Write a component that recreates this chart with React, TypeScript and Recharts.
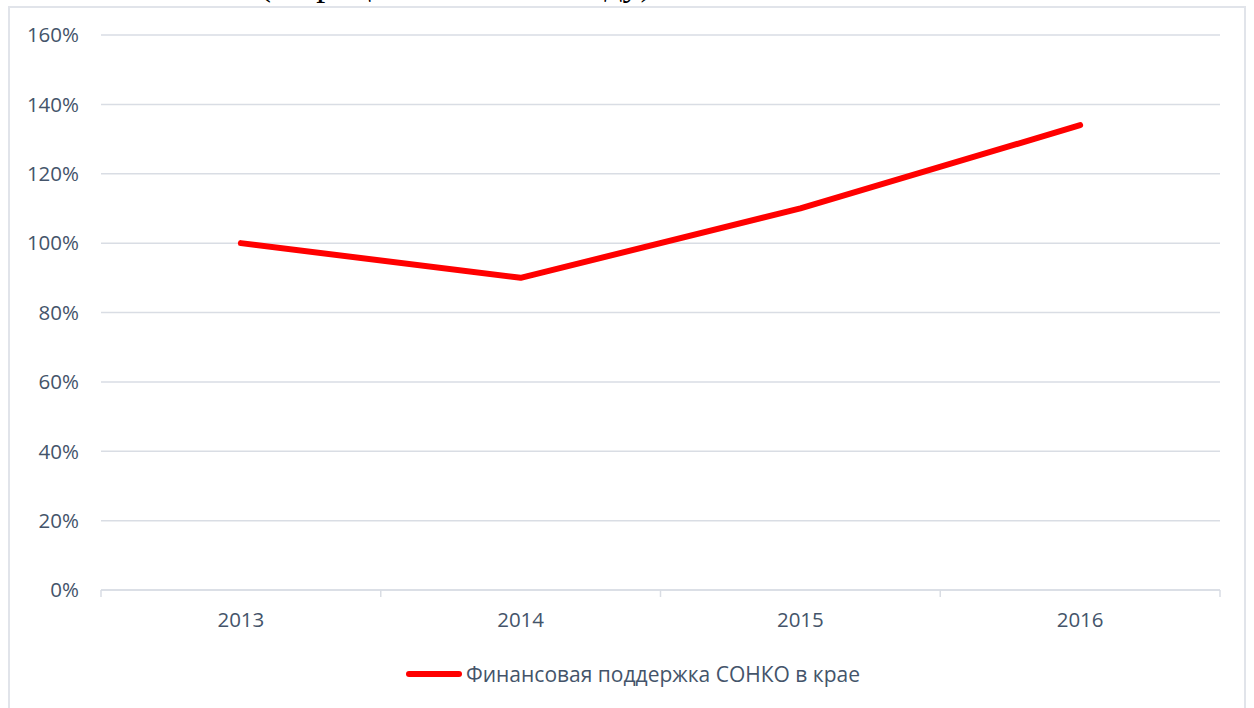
import React from 'react';
import { LineChart, Line, XAxis, YAxis, CartesianGrid } from 'recharts';

const years = ['2013', '2014', '2015', '2016'];
const supportValues = [100, 90, 110, 134];
const yTicks = [0, 20, 40, 60, 80, 100, 120, 140, 160];
const seriesName = 'Финансовая поддержка СОНКО в крае';
const captionText = '(в процентах к 2013 году)';

const data = years.map((y, i) => ({ year: y, value: supportValues[i] }));

const TEXT = '#44546A';
const GRID = '#D9DDE4';
const FONT = '"Open Sans", sans-serif';

const renderXTick = (props: any) => {
  const { x, y, payload, index, visibleTicksCount, width } = props;
  const bw = width / visibleTicksCount;
  const left = x - bw / 2;
  const right = x + bw / 2;
  return (
    <g>
      <line x1={left} y1={y} x2={left} y2={y + 7} stroke={GRID} strokeWidth={1.5} />
      {index === visibleTicksCount - 1 && (
        <line x1={right} y1={y} x2={right} y2={y + 7} stroke={GRID} strokeWidth={1.5} />
      )}
      <text x={x} y={y + 37} textAnchor="middle" fill={TEXT} fontSize={20.5} fontFamily={FONT}>
        {payload.value}
      </text>
    </g>
  );
};

export default function App() {
  return (
    <div style={{ position: 'absolute', left: 0, top: 0, width: 1254, height: 708, overflow: 'hidden', background: '#fff' }}>
      <svg width={1254} height={20} style={{ position: 'absolute', left: 0, top: 0 }}>
        <text x={259} y={-5} fontSize={36} fontFamily='"Liberation Serif", "Times New Roman", serif' fill="#000">
          {captionText}
        </text>
      </svg>
      <div
        style={{
          position: 'absolute',
          left: 8,
          top: 6,
          width: 1238,
          height: 720,
          border: '2px solid #E1E4EA',
          boxSizing: 'border-box',
        }}
      />
      <div style={{ position: 'absolute', left: 8, top: 6 }}>
        <LineChart width={1240} height={702} data={data} margin={{ top: 29, right: 28, bottom: 78, left: 0 }}>
          <CartesianGrid vertical={false} stroke={GRID} strokeWidth={1.5} />
          <XAxis
            dataKey="year"
            scale="band"
            height={40}
            axisLine={{ stroke: GRID, strokeWidth: 1.5 }}
            tickLine={false}
            tickSize={0}
            tickMargin={0}
            tick={renderXTick}
            interval={0}
          />
          <YAxis
            width={93}
            domain={[0, 160]}
            ticks={yTicks}
            axisLine={false}
            tickLine={false}
            tickSize={0}
            tickMargin={22}
            tickFormatter={(v: number) => `${v}%`}
            tick={{ fill: TEXT, fontSize: 20.5, fontFamily: FONT }}
          />
          <Line
            type="linear"
            dataKey="value"
            name={seriesName}
            stroke="#FF0000"
            strokeWidth={6}
            strokeLinecap="round"
            strokeLinejoin="round"
            dot={false}
            activeDot={false}
            isAnimationActive={false}
          />
        </LineChart>
      </div>
      <div
        style={{
          position: 'absolute',
          left: 406,
          top: 660,
          height: 28,
          display: 'flex',
          alignItems: 'center',
          fontFamily: FONT,
          fontSize: 21,
          color: TEXT,
          whiteSpace: 'nowrap',
        }}
      >
        <span style={{ display: 'inline-block', width: 56, height: 6, borderRadius: 3, background: '#FF0000', marginRight: 4 }} />
        <span>{seriesName}</span>
      </div>
    </div>
  );
}
